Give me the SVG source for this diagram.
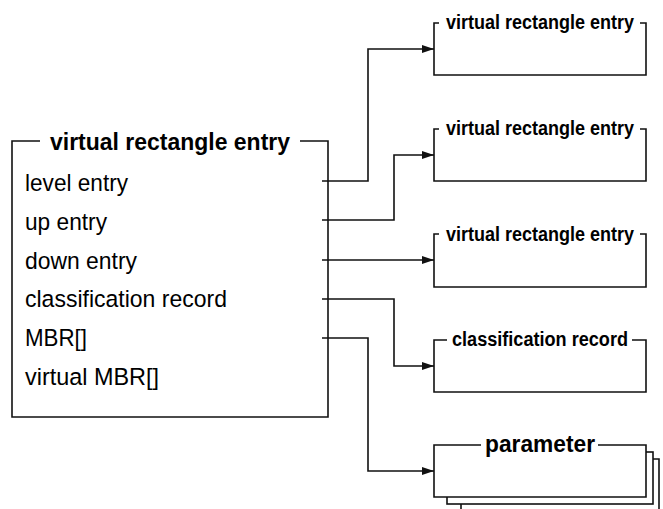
<svg xmlns="http://www.w3.org/2000/svg" width="663" height="509" viewBox="0 0 663 509">
<style>
.ln{fill:none;stroke:#111;stroke-width:1.6}
.bx{fill:#fff;stroke:#111;stroke-width:1.6}
.t{font-family:"Liberation Sans",Arial,sans-serif;font-size:24.5px;fill:#000}
.tb{font-family:"Liberation Sans",Arial,sans-serif;font-weight:bold;fill:#000}
.s{font-size:19.5px}
.m{font-size:23.5px}
</style>
<defs>
<marker id="ah" markerUnits="userSpaceOnUse" markerWidth="12" markerHeight="8" refX="12" refY="4" orient="auto">
<path d="M0,0 L12,4 L0,8 z" fill="#111"/>
</marker>
</defs>
<rect width="663" height="509" fill="#fff"/>
<g id="main">
<path class="ln" d="M40,141 H12 V417 H328 V141 H300"/>
<text class="tb m" x="170" y="150" text-anchor="middle" textLength="240" lengthAdjust="spacingAndGlyphs">virtual rectangle entry</text>
<text class="t" x="25" y="191" textLength="103" lengthAdjust="spacingAndGlyphs">level entry</text>
<text class="t" x="25" y="230" textLength="82" lengthAdjust="spacingAndGlyphs">up entry</text>
<text class="t" x="25" y="269" textLength="112" lengthAdjust="spacingAndGlyphs">down entry</text>
<text class="t" x="25" y="307" textLength="202" lengthAdjust="spacingAndGlyphs">classification record</text>
<text class="t" x="25" y="346" textLength="62" lengthAdjust="spacingAndGlyphs">MBR[]</text>
<text class="t" x="25" y="385" textLength="134" lengthAdjust="spacingAndGlyphs">virtual MBR[]</text>
</g>
<g id="vre1">
<path class="ln" d="M439,23 H434 V75 H646 V23 H640"/>
<text class="tb s" x="540" y="29" text-anchor="middle" textLength="188" lengthAdjust="spacingAndGlyphs">virtual rectangle entry</text>
</g>
<g id="vre2">
<path class="ln" d="M439,129 H434 V181 H646 V129 H640"/>
<text class="tb s" x="540" y="135" text-anchor="middle" textLength="188" lengthAdjust="spacingAndGlyphs">virtual rectangle entry</text>
</g>
<g id="vre3">
<path class="ln" d="M439,234 H434 V287 H646 V234 H640"/>
<text class="tb s" x="540" y="241" text-anchor="middle" textLength="188" lengthAdjust="spacingAndGlyphs">virtual rectangle entry</text>
</g>
<g id="classrec">
<path class="ln" d="M447,340 H434 V392 H646 V340 H632"/>
<text class="tb s" x="540" y="346" text-anchor="middle" textLength="176" lengthAdjust="spacingAndGlyphs">classification record</text>
</g>
<g id="param">
<path class="ln" d="M461,511 V459 H659 V511"/>
<rect class="bx" x="447" y="452" width="206" height="52"/>
<rect x="434" y="445" width="212" height="52" style="fill:#fff;stroke:none"/>
<path class="ln" d="M481,445 H434 V497 H646 V445 H598"/>
<text class="tb m" x="540" y="452" text-anchor="middle" textLength="110" lengthAdjust="spacingAndGlyphs">parameter</text>
</g>
<g id="connectors">
<path class="ln" d="M322,181 H368 V49 H434" marker-end="url(#ah)"/>
<path class="ln" d="M322,220 H394 V155 H434" marker-end="url(#ah)"/>
<path class="ln" d="M322,260 H434" marker-end="url(#ah)"/>
<path class="ln" d="M322,299 H394 V366 H434" marker-end="url(#ah)"/>
<path class="ln" d="M322,338 H368 V471 H434" marker-end="url(#ah)"/>
</g>
</svg>
